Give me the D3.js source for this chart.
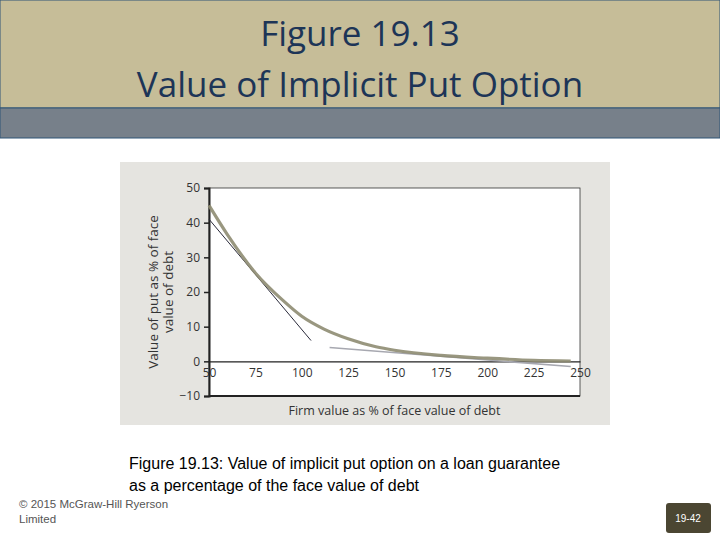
<!DOCTYPE html>
<html>
<head>
<meta charset="utf-8">
<script src="https://cdn.jsdelivr.net/npm/d3@7"></script>
<style>
  body { margin: 0; background: #fff; }
  svg { display: block; }
</style>
</head>
<body>
<svg id="slide" width="720" height="540"></svg>
<script>
"use strict";

// put value curve
var firmValue = [50, 60, 75, 90, 100, 112, 125, 140, 150, 175, 200, 225, 245];
var putValue = [45, 36.5, 25.5, 17.5, 13, 9.3, 6.5, 4.2, 3.2, 1.7, 0.9, 0.3, 0.1];

// the two straight tangents
var tangentLow = [[50, 41], [105, 6]];
var tangentHigh = [[115, 4], [245, -1.5]];

var xTicks = [50, 75, 100, 125, 150, 175, 200, 225, 250];
var yTicks = [-10, 0, 10, 20, 30, 40, 50];

var svg = d3.select("#slide");

// title band
svg.append("rect").attr("x", 0).attr("y", 0).attr("width", 720).attr("height", 108)
	.attr("fill", "#c6bd98").attr("stroke", "#2f5577").attr("stroke-width", 1);
svg.append("rect").attr("x", 0).attr("y", 108).attr("width", 720).attr("height", 30)
	.attr("fill", "#77808a").attr("stroke", "#2f5577").attr("stroke-width", 1);

var title = ["Figure 19.13", "Value of Implicit Put Option"];
svg.selectAll("text.title").data(title).enter().append("text")
	.attr("class", "title")
	.attr("x", 360)
	.attr("y", function(d, i) { return 46 + i * 51; })
	.attr("text-anchor", "middle")
	.attr("font-family", "Open Sans, sans-serif")
	.attr("font-size", 35)
	.attr("fill", "#1d3557")
	.text(function(d) { return d; });

// chart panel
svg.append("rect").attr("x", 120).attr("y", 162).attr("width", 490).attr("height", 263)
	.attr("fill", "#e5e4e0");

var x = d3.scaleLinear().domain([50, 250]).range([209, 580]);
var y = d3.scaleLinear().domain([-10, 50]).range([396, 188]);

svg.append("rect").attr("x", x(50)).attr("y", y(50))
	.attr("width", x(250) - x(50)).attr("height", y(-10) - y(50))
	.attr("fill", "#fff").attr("stroke", "#333").attr("stroke-width", 0.8);

var font = "Open Sans, sans-serif";

var xAxis = svg.append("g").attr("transform", "translate(0," + y(0) + ")")
	.call(d3.axisBottom(x).tickValues(xTicks).tickSize(0).tickPadding(7));
xAxis.select(".domain").attr("stroke", "#222").attr("stroke-width", 1.2);
xAxis.selectAll("text").attr("font-family", font).attr("font-size", 12).attr("fill", "#333");

var yAxis = svg.append("g").attr("transform", "translate(" + x(50) + ",0)")
	.call(d3.axisLeft(y).tickValues(yTicks).tickSize(5).tickPadding(4)
		.tickFormat(function(d) { return d < 0 ? "\u2212" + (-d) : d; }));
yAxis.select(".domain").attr("stroke", "#222").attr("stroke-width", 2);
yAxis.selectAll("line").attr("stroke", "#222").attr("stroke-width", 1.5);
yAxis.selectAll("text").attr("font-family", font).attr("font-size", 12).attr("fill", "#333");

// bottom frame line drawn bold like the left axis
svg.append("line").attr("x1", x(50)).attr("x2", x(250)).attr("y1", y(-10)).attr("y2", y(-10))
	.attr("stroke", "#222").attr("stroke-width", 2);

var line = d3.line().x(function(d) { return x(d[0]); }).y(function(d) { return y(d[1]); });

svg.append("path").datum(tangentHigh).attr("d", line)
	.attr("fill", "none").attr("stroke", "#a7a8b0").attr("stroke-width", 1.6);
svg.append("path").datum(tangentLow).attr("d", line)
	.attr("fill", "none").attr("stroke", "#2a2a3a").attr("stroke-width", 1);

var curve = d3.line().curve(d3.curveMonotoneX)
	.x(function(d, i) { return x(firmValue[i]); })
	.y(function(d) { return y(d); });
svg.append("path").datum(putValue).attr("d", curve)
	.attr("fill", "none").attr("stroke", "#8e8c72").attr("stroke-width", 3.2).attr("opacity", 0.9);

svg.append("text").attr("x", (x(50) + x(250)) / 2).attr("y", 415)
	.attr("text-anchor", "middle").attr("font-family", font).attr("font-size", 12.5).attr("fill", "#333")
	.text("Firm value as % of face value of debt");

var yLabel = svg.append("text").attr("transform", "translate(158," + y(20) + ") rotate(-90)")
	.attr("text-anchor", "middle").attr("font-family", font).attr("font-size", 13.5).attr("fill", "#333");
yLabel.append("tspan").attr("x", 0).attr("dy", 0).text("Value of put as % of face");
yLabel.append("tspan").attr("x", 0).attr("dy", 15).text("value of debt");

// caption and footer
var caption = ["Figure 19.13: Value of implicit put option on a loan guarantee",
	"as a percentage of the face value of debt"];
svg.selectAll("text.cap").data(caption).enter().append("text")
	.attr("x", 129).attr("y", function(d, i) { return 469 + i * 22; })
	.attr("font-family", "Liberation Sans, Arial, sans-serif").attr("font-size", 16).attr("fill", "#000")
	.text(function(d) { return d; });

var footer = ["\u00a9 2015 McGraw-Hill Ryerson", "Limited"];
svg.selectAll("text.foot").data(footer).enter().append("text")
	.attr("x", 19).attr("y", function(d, i) { return 508 + i * 15; })
	.attr("font-family", "Liberation Sans, Arial, sans-serif").attr("font-size", 11.5).attr("fill", "#555")
	.text(function(d) { return d; });

svg.append("rect").attr("x", 666).attr("y", 503).attr("width", 45).attr("height", 30).attr("rx", 3)
	.attr("fill", "#4b4632");
svg.append("text").attr("x", 688).attr("y", 522).attr("text-anchor", "middle")
	.attr("font-family", "Liberation Sans, Arial, sans-serif").attr("font-size", 10).attr("fill", "#fff")
	.text("19-42");
</script>
</body>
</html>
